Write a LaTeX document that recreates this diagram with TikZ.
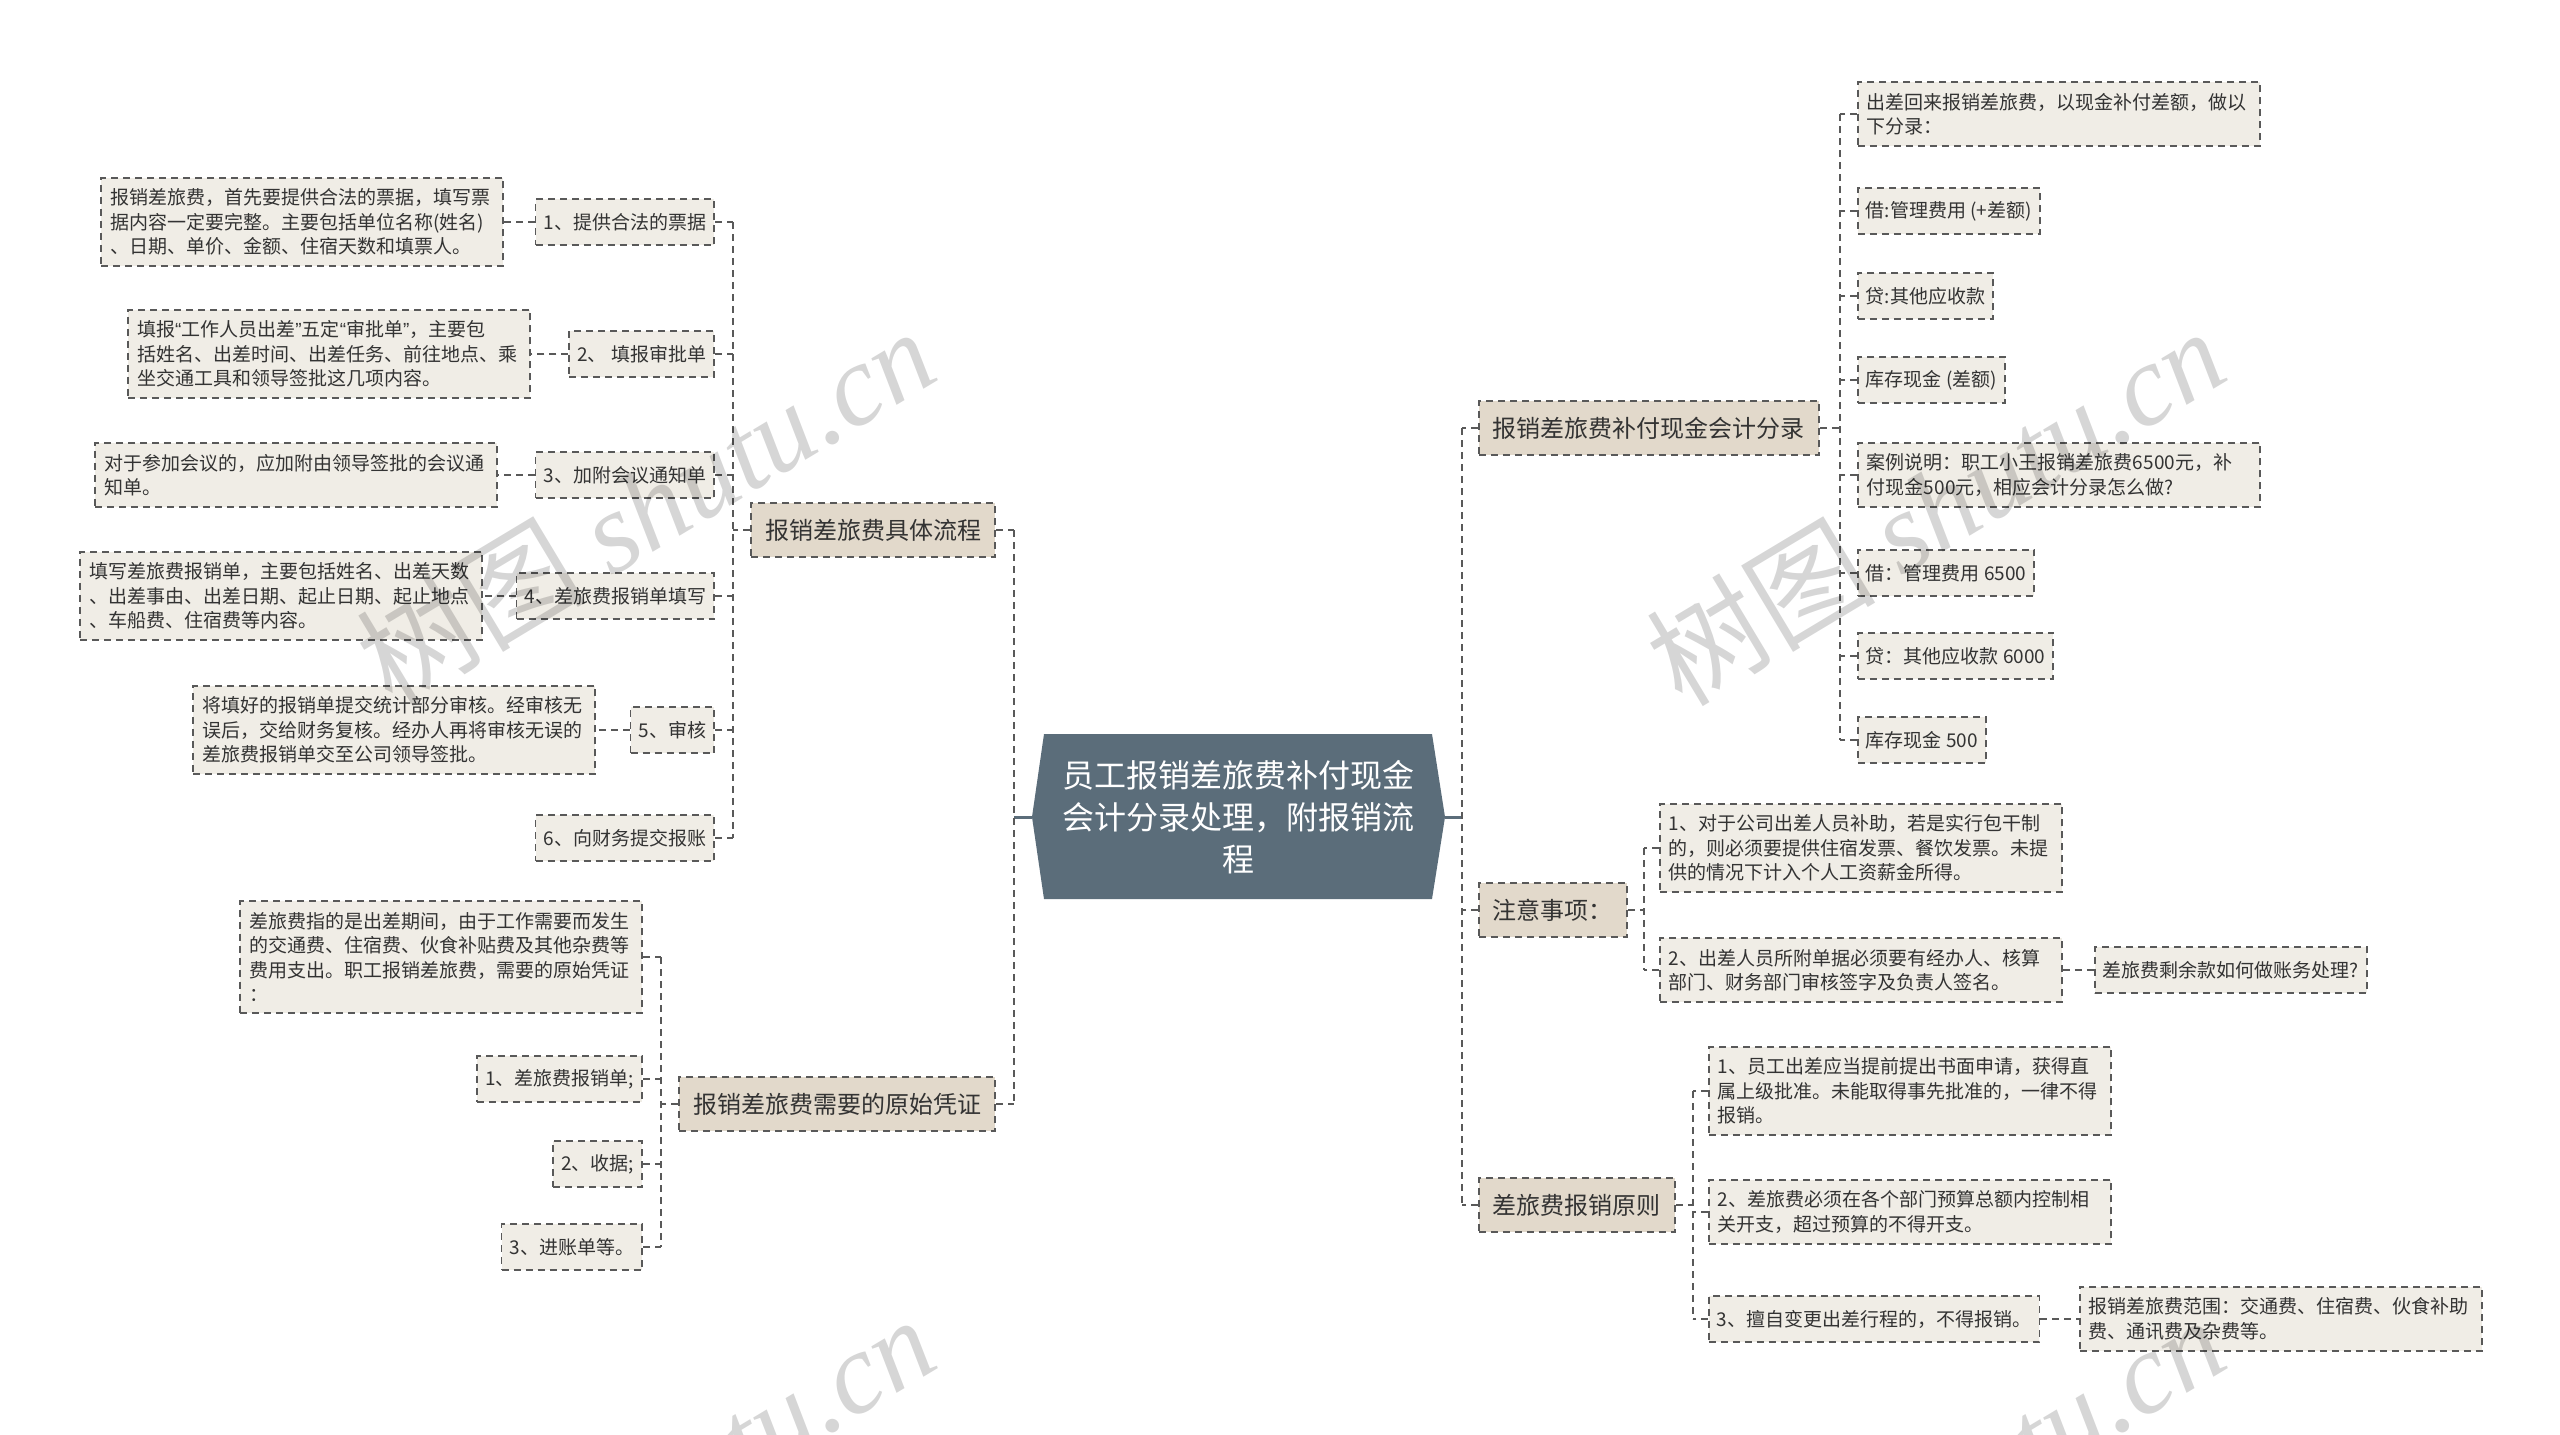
\documentclass[tikz,border=0pt]{standalone}
\usepackage{fontspec}
\setmainfont{Noto Sans CJK SC}
\newfontfamily\wmlatin{Liberation Serif}
\newfontfamily\qf{Liberation Sans}
\usetikzlibrary{calc}
\definecolor{rootfill}{HTML}{5B6D7A}
\definecolor{lvfill}{HTML}{E2D9CB}
\definecolor{leaffill}{HTML}{F0EDE6}
\definecolor{edgec}{HTML}{595959}
\definecolor{txt}{HTML}{333333}
\newcommand{\myLq}{{\qf “}}
\newcommand{\myRq}{{\qf ”}}
\begin{document}
\begin{tikzpicture}[x=1pt,y=-1pt,
  conn/.style={draw=edgec, line width=1.8pt, dash pattern=on 7pt off 5pt},
  rootline/.style={draw=rootfill, line width=3pt},
  box/.style={draw=edgec, line width=1.8pt, dash pattern=on 7pt off 5pt, text=txt},
  lvone/.style={box, fill=lvfill, font=\fontsize{24}{30}\selectfont, inner xsep=14pt, minimum height=54pt},
  leaf/.style={box, fill=leaffill, font=\fontsize{19}{24.5}\selectfont, inner xsep=8pt, minimum height=46pt},
  para/.style={leaf, text width=384pt, align=left, inner xsep=9pt, inner ysep=11pt},
  rootnode/.style={text=white, font=\fontsize{32}{42}\selectfont, align=center},
  wm/.style={rotate=31, text=black, opacity=0.16, font=\fontsize{115}{115}\selectfont}
]
\useasboundingbox (0,0) rectangle (2560,1435);
\fill[white] (0,0) rectangle (2560,1435);

% root
\fill[rootfill] (1044,734) -- (1432,734) -- (1445,817) -- (1432,899) -- (1044,899) -- (1032,817) -- cycle;
\node[rootnode] (root) at (1238,817) {员工报销差旅费补付现金\\会计分录处理，附报销流\\程};
\coordinate (rootL) at (1032,817);
\coordinate (rootR) at (1445,817);

% trunks
\coordinate (tL) at (1014,0);
\coordinate (tR) at (1462,0);
\coordinate (tA) at (733,0);
\coordinate (tB) at (661,0);
\coordinate (tC) at (1840,0);
\coordinate (tD) at (1644,0);
\coordinate (tE) at (1693,0);

% level 1
\node[lvone, anchor=east] (A) at (996,530) {报销差旅费具体流程};
\node[lvone, anchor=east] (B) at (996,1104) {报销差旅费需要的原始凭证};
\node[lvone, anchor=west] (C) at (1478,428) {报销差旅费补付现金会计分录};
\node[lvone, anchor=west] (D) at (1478,910) {注意事项：};
\node[lvone, anchor=west] (E) at (1478,1205) {差旅费报销原则};

% A children
\node[leaf, anchor=east] (a1) at (715,222) {1、提供合法的票据};
\node[leaf, anchor=east] (a2) at (715,354) {2、 填报审批单};
\node[leaf, anchor=east] (a3) at (715,475) {3、加附会议通知单};
\node[leaf, anchor=east] (a4) at (715,596) {4、差旅费报销单填写};
\node[leaf, anchor=east] (a5) at (715,730) {5、审核};
\node[leaf, anchor=east] (a6) at (715,838) {6、向财务提交报账};
\node[para, anchor=east] (a1d) at (504,222) {报销差旅费，首先要提供合法的票据，填写票\\据内容一定要完整。主要包括单位名称(姓名)\\、日期、单价、金额、住宿天数和填票人。};
\node[para, anchor=east] (a2d) at (531,354) {填报\myLq 工作人员出差\myRq 五定\myLq 审批单\myRq ，主要包\\括姓名、出差时间、出差任务、前往地点、乘\\坐交通工具和领导签批这几项内容。};
\node[para, anchor=east] (a3d) at (498,475) {对于参加会议的，应加附由领导签批的会议通\\知单。};
\node[para, anchor=east] (a4d) at (483,596) {填写差旅费报销单，主要包括姓名、出差天数\\、出差事由、出差日期、起止日期、起止地点\\、车船费、住宿费等内容。};
\node[para, anchor=east] (a5d) at (596,730) {将填好的报销单提交统计部分审核。经审核无\\误后，交给财务复核。经办人再将审核无误的\\差旅费报销单交至公司领导签批。};

% B children
\node[para, anchor=east] (b0) at (643,957) {差旅费指的是出差期间，由于工作需要而发生\\的交通费、住宿费、伙食补贴费及其他杂费等\\费用支出。职工报销差旅费，需要的原始凭证\\：};
\node[leaf, anchor=east] (b1) at (643,1079) {1、差旅费报销单;};
\node[leaf, anchor=east] (b2) at (643,1164) {2、收据;};
\node[leaf, anchor=east] (b3) at (643,1247) {3、进账单等。};

% C children
\node[para, anchor=west] (c1) at (1857,114) {出差回来报销差旅费，以现金补付差额，做以\\下分录：};
\node[leaf, anchor=west] (c2) at (1857,211) {借:管理费用 (+差额)};
\node[leaf, anchor=west] (c3) at (1857,296) {贷:其他应收款};
\node[leaf, anchor=west] (c4) at (1857,380) {库存现金 (差额)};
\node[para, anchor=west] (c5) at (1857,475) {案例说明：职工小王报销差旅费6500元，补\\付现金500元，相应会计分录怎么做?};
\node[leaf, anchor=west] (c6) at (1857,573) {借：管理费用 6500};
\node[leaf, anchor=west] (c7) at (1857,656) {贷：其他应收款 6000};
\node[leaf, anchor=west] (c8) at (1857,740) {库存现金 500};

% D children
\node[para, anchor=west] (d1) at (1659,848) {1、对于公司出差人员补助，若是实行包干制\\的，则必须要提供住宿发票、餐饮发票。未提\\供的情况下计入个人工资薪金所得。};
\node[para, anchor=west] (d2) at (1659,970) {2、出差人员所附单据必须要有经办人、核算\\部门、财务部门审核签字及负责人签名。};
\node[leaf, anchor=west] (d2a) at (2094,970) {差旅费剩余款如何做账务处理?};

% E children
\node[para, anchor=west] (e1) at (1708,1091) {1、员工出差应当提前提出书面申请，获得直\\属上级批准。未能取得事先批准的，一律不得\\报销。};
\node[para, anchor=west] (e2) at (1708,1212) {2、差旅费必须在各个部门预算总额内控制相\\关开支，超过预算的不得开支。};
\node[leaf, anchor=west] (e3) at (1708,1319) {3、擅自变更出差行程的，不得报销。};
\node[para, anchor=west] (e3a) at (2079,1319) {报销差旅费范围：交通费、住宿费、伙食补助\\费、通讯费及杂费等。};

% root connectors
\draw[rootline] (rootL) -- (rootL -| tL);
\draw[rootline] (rootR) -- (rootR -| tR);
\draw[conn] (A.east -| tL) -- (B.east -| tL);
\draw[conn] (A.east) -- (A.east -| tL);
\draw[conn] (B.east) -- (B.east -| tL);
\draw[conn] (C.west -| tR) -- (E.west -| tR);
\foreach \n in {C,D,E} \draw[conn] (\n.west) -- (\n.west -| tR);

% A branch
\draw[conn] (A.west) -- (A.west -| tA);
\draw[conn] (a1.east -| tA) -- (a6.east -| tA);
\foreach \n in {a1,a2,a3,a4,a5,a6} \draw[conn] (\n.east) -- (\n.east -| tA);
\draw[conn] (a1.west) -- (a1d.east);
\draw[conn] (a2.west) -- (a2d.east);
\draw[conn] (a3.west) -- (a3d.east);
\draw[conn] (a4.west) -- (a4d.east);
\draw[conn] (a5.west) -- (a5d.east);

% B branch
\draw[conn] (B.west) -- (B.west -| tB);
\draw[conn] (b0.east -| tB) -- (b3.east -| tB);
\foreach \n in {b0,b1,b2,b3} \draw[conn] (\n.east) -- (\n.east -| tB);

% C branch
\draw[conn] (C.east) -- (C.east -| tC);
\draw[conn] (c1.west -| tC) -- (c8.west -| tC);
\foreach \n in {c1,c2,c3,c4,c5,c6,c7,c8} \draw[conn] (\n.west) -- (\n.west -| tC);

% D branch
\draw[conn] (D.east) -- (D.east -| tD);
\draw[conn] (d1.west -| tD) -- (d2.west -| tD);
\foreach \n in {d1,d2} \draw[conn] (\n.west) -- (\n.west -| tD);
\draw[conn] (d2.east) -- (d2a.west);

% E branch
\draw[conn] (E.east) -- (E.east -| tE);
\draw[conn] (e1.west -| tE) -- (e3.west -| tE);
\foreach \n in {e1,e2,e3} \draw[conn] (\n.west) -- (\n.west -| tE);
\draw[conn] (e3.east) -- (e3a.west);

% watermarks
\begin{scope}
\clip (0,0) rectangle (2560,1435);
\foreach \p [count=\i] in {(645,506),(1935,506),(645,1494),(1935,1494)}
  \node[wm] (wm\i) at \p {树图 {\wmlatin\itshape shutu.cn}};
\end{scope}
\end{tikzpicture}
\end{document}
